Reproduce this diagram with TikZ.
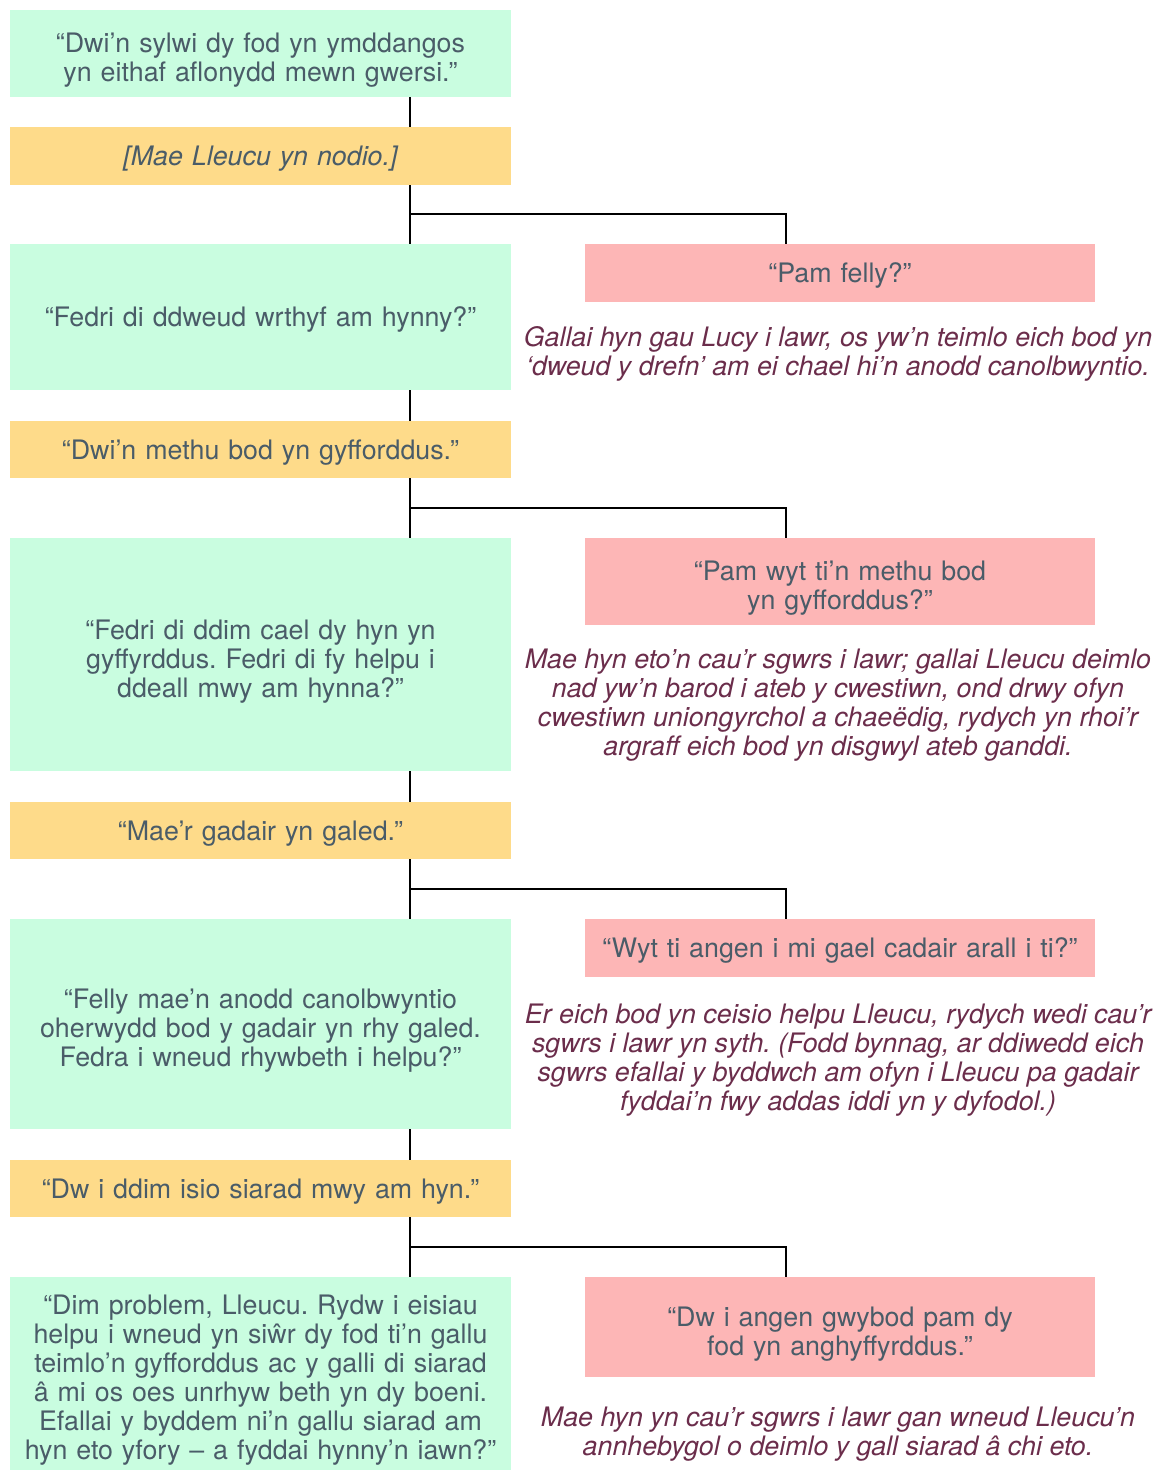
\documentclass[tikz,border=0pt]{standalone}
\usepackage{fontspec}
\setmainfont{TeX Gyre Heros}
\usepackage{tikz}
\usetikzlibrary{calc}

\definecolor{mint}{HTML}{C9FDE0}
\definecolor{sand}{HTML}{FEDB8A}
\definecolor{rose}{HTML}{FDB6B6}
\definecolor{slate}{HTML}{4A5C68}
\definecolor{plum}{HTML}{6B2D4B}

\tikzset{
  box/.style={inner xsep=0pt, inner ysep=2pt, align=center, text=slate,
    font=\fontsize{13.4}{14.5}\selectfont\frenchspacing,
    execute at end node={\vspace*{-7pt}}},
  said/.style={box, fill=mint, text width=250.5pt},
  reply/.style={box, fill=sand, text width=250.5pt},
  ask/.style={box, fill=rose, text width=255pt},
  note/.style={align=center, text=plum, font=\fontsize{13.4}{14.5}\selectfont\itshape\frenchspacing},
  link/.style={draw=black, line width=1pt}
}

\begin{document}
\begin{tikzpicture}[x=0.5pt, y=-0.5pt]
  \useasboundingbox (0,0) rectangle (1168,1470);
  % Left column
  \node[said, minimum height=43.5pt] (g1) at (260.5,53.5) {“Dwi’n sylwi dy fod yn ymddangos\\yn eithaf aflonydd mewn gwersi.”};
  \node[reply, minimum height=29pt] (y1) at (260.5,156) {\itshape [Mae Lleucu yn nodio.]};
  \node[said, minimum height=73pt] (g2) at (260.5,317) {“Fedri di ddweud wrthyf am hynny?”};
  \node[reply, minimum height=28.5pt] (y2) at (260.5,449.5) {“Dwi’n methu bod yn gyfforddus.”};
  \node[said, minimum height=116.5pt] (g3) at (260.5,654.5) {“Fedri di ddim cael dy hyn yn\\gyffyrddus. Fedri di fy helpu i\\ddeall mwy am hynna?”};
  \node[reply, minimum height=28.5pt] (y3) at (260.5,830.5) {“Mae’r gadair yn galed.”};
  \node[said, minimum height=105pt] (g4) at (260.5,1024) {“Felly mae’n anodd canolbwyntio\\oherwydd bod y gadair yn rhy galed.\\Fedra i wneud rhywbeth i helpu?”};
  \node[reply, minimum height=28.5pt] (y4) at (260.5,1188.5) {“Dw i ddim isio siarad mwy am hyn.”};
  \node[said, minimum height=96.5pt] (g5) at (260.5,1373.5) {“Dim problem, Lleucu. Rydw i eisiau\\helpu i wneud yn siŵr dy fod ti’n gallu\\teimlo’n gyfforddus ac y galli di siarad\\â mi os oes unrhyw beth yn dy boeni.\\Efallai y byddem ni’n gallu siarad am\\hyn eto yfory – a fyddai hynny’n iawn?”};
  % Right column
  \node[ask, minimum height=29pt] (p1) at (840,273) {“Pam felly?”};
  \node[ask, minimum height=43.5pt] (p2) at (840,581.5) {“Pam wyt ti’n methu bod\\yn gyfforddus?”};
  \node[ask, minimum height=29pt] (p3) at (840,948) {“Wyt ti angen i mi gael cadair arall i ti?”};
  \node[ask, minimum height=50pt] (p4) at (840,1327) {“Dw i angen gwybod pam dy\\fod yn anghyffyrddus.”};
  % Notes
  \node[note] (n1) at (838,354) {Gallai hyn gau Lucy i lawr, os yw’n teimlo eich bod yn\\‘dweud y drefn’ am ei chael hi’n anodd canolbwyntio.};
  \node[note] (n2) at (838,705) {Mae hyn eto’n cau’r sgwrs i lawr; gallai Lleucu deimlo\\nad yw’n barod i ateb y cwestiwn, ond drwy ofyn\\cwestiwn uniongyrchol a chaeëdig, rydych yn rhoi’r\\argraff eich bod yn disgwyl ateb ganddi.};
  \node[note] (n3) at (838,1060) {Er eich bod yn ceisio helpu Lleucu, rydych wedi cau’r\\sgwrs i lawr yn syth. (Fodd bynnag, ar ddiwedd eich\\sgwrs efallai y byddwch am ofyn i Lleucu pa gadair\\fyddai’n fwy addas iddi yn y dyfodol.)};
  \node[note] (n4) at (838,1434) {Mae hyn yn cau’r sgwrs i lawr gan wneud Lleucu’n\\annhebygol o deimlo y gall siarad â chi eto.};
  % Connectors
  \coordinate (spine) at (410,0);
  \coordinate (rspine) at (786,0);
  \foreach \a/\b in {g1/y1, y1/g2, g2/y2, y2/g3, g3/y3, y3/g4, g4/y4, y4/g5} {
    \draw[link] (\a.south -| spine) -- (\b.north -| spine);
  }
  \foreach \a/\b/\c in {y1/g2/p1, y2/g3/p2, y3/g4/p3, y4/g5/p4} {
    \coordinate (m) at ($(\a.south)!0.5!(\b.north)$);
    \draw[link] (m -| spine) -| (\c.north -| rspine);
  }
\end{tikzpicture}
\end{document}
